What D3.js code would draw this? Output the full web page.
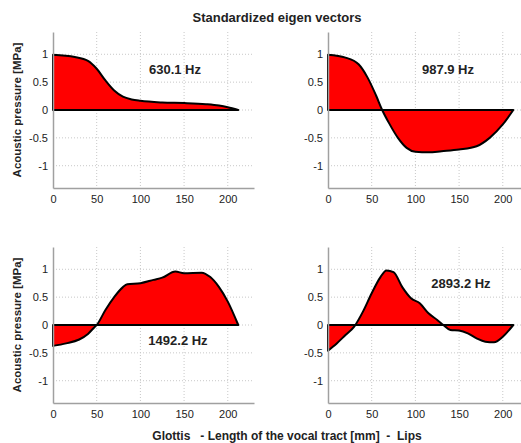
<!DOCTYPE html>
<html>
<head>
<meta charset="utf-8">
<script src="https://cdn.jsdelivr.net/npm/d3@7"></script>
<style>
  body { margin: 0; background: #fff; }
  svg text { font-family: "Liberation Sans", Arial, sans-serif; }
</style>
</head>
<body>
<div id="chart"></div>
<script>
// eigen vector samples: position along the tract [mm] and pressure [MPa]
const xs1 = [0, 25, 40, 50, 60, 70, 80, 90, 100, 125, 150, 175, 190, 200, 212];
const ys1 = [0.99, 0.95, 0.88, 0.74, 0.53, 0.35, 0.24, 0.19, 0.165, 0.135, 0.125, 0.105, 0.08, 0.05, 0];

const xs2 = [0, 20, 35, 45, 55, 62, 70, 80, 90, 100, 115, 130, 150, 170, 185, 200, 212];
const ys2 = [0.99, 0.94, 0.82, 0.59, 0.26, 0, -0.24, -0.5, -0.68, -0.75, -0.76, -0.74, -0.71, -0.65, -0.5, -0.26, 0];

const xs3 = [0, 15, 30, 40, 48, 50, 60, 70, 80, 85, 100, 115, 125, 140, 150, 170, 180, 190, 200, 212];
const ys3 = [-0.375, -0.33, -0.26, -0.16, -0.03, 0, 0.27, 0.5, 0.68, 0.73, 0.75, 0.81, 0.85, 0.96, 0.93, 0.94, 0.86, 0.68, 0.42, 0];

const xs4 = [0, 10, 20, 30, 40, 50, 60, 67, 75, 85, 95, 105, 115, 125, 132, 140, 150, 160, 170, 180, 190, 200, 212];
const ys4 = [-0.46, -0.33, -0.18, -0.03, 0.24, 0.57, 0.86, 0.98, 0.95, 0.68, 0.48, 0.39, 0.21, 0.09, 0, -0.09, -0.1, -0.15, -0.24, -0.3, -0.31, -0.21, 0];

const freqLabels = ['630.1 Hz', '987.9 Hz', '1492.2 Hz', '2893.2 Hz'];
const xTicks = [0, 50, 100, 150, 200];
const yTicks = [-1, -0.5, 0, 0.5, 1];
const title = 'Standardized eigen vectors';
const yTitle = 'Acoustic pressure [MPa]';
const xTitle = 'Glottis   - Length of the vocal tract [mm]  -  Lips';

const W = 521, H = 443;
const svg = d3.select('#chart').append('svg')
    .attr('width', W).attr('height', H);

const panels = [
    { xs: xs1, ys: ys1, left: 53, top: 32, label: freqLabels[0], lx: 175, ly: 71, ylab: true },
    { xs: xs2, ys: ys2, left: 328, top: 32, label: freqLabels[1], lx: 448, ly: 71, ylab: false },
    { xs: xs3, ys: ys3, left: 53, top: 247, label: freqLabels[2], lx: 178, ly: 342, ylab: true },
    { xs: xs4, ys: ys4, left: 328, top: 247, label: freqLabels[3], lx: 461, ly: 285, ylab: false }
];

const pw = 201, ph = 156;

panels.forEach(p => {
    const g = svg.append('g').attr('transform', `translate(${p.left},${p.top})`);
    const x = d3.scaleLinear().domain([0, 230]).range([0, pw]);
    const y = d3.scaleLinear().domain([-1.4, 1.4]).range([ph, 0]);

    // dotted grid
    g.selectAll('.vg').data(xTicks.slice(1)).enter().append('line')
        .attr('x1', d => x(d)).attr('x2', d => x(d))
        .attr('y1', 0).attr('y2', ph)
        .attr('stroke', '#c8c8c8').attr('stroke-width', 1)
        .attr('stroke-dasharray', '1,2');
    g.selectAll('.hg').data(yTicks).enter().append('line')
        .attr('x1', 0).attr('x2', pw)
        .attr('y1', d => y(d)).attr('y2', d => y(d))
        .attr('stroke', '#c8c8c8').attr('stroke-width', 1)
        .attr('stroke-dasharray', '1,2');

    const pts = p.xs.map((v, i) => [v, p.ys[i]]);
    const area = d3.area()
        .x(d => x(d[0])).y0(y(0)).y1(d => y(d[1]))
        .curve(d3.curveMonotoneX);
    g.append('path').datum(pts)
        .attr('d', area)
        .attr('fill', '#ff0000')
        .attr('stroke', '#000').attr('stroke-width', 2)
        .attr('stroke-linejoin', 'round');

    // zero line
    g.append('line')
        .attr('x1', x(0)).attr('x2', x(212))
        .attr('y1', y(0)).attr('y2', y(0))
        .attr('stroke', '#000').attr('stroke-width', 2);

    // axes
    const xa = g.append('g').attr('transform', `translate(0,${ph})`)
        .call(d3.axisBottom(x).tickValues(xTicks).tickSize(0).tickPadding(7));
    const ya = g.append('g')
        .call(d3.axisLeft(y).tickValues(yTicks).tickSize(0).tickPadding(5)
            .tickFormat(d => d === 0 ? '0' : String(d)));
    [xa, ya].forEach(a => {
        a.select('.domain').attr('stroke', '#a0a0a0').attr('stroke-width', 1.5);
        a.selectAll('text').attr('font-size', 11).attr('fill', '#222');
    });

    g.append('text')
        .attr('x', p.lx - p.left).attr('y', p.ly - p.top)
        .attr('text-anchor', 'middle').attr('dominant-baseline', 'middle')
        .attr('font-size', 13).attr('font-weight', 'bold').attr('fill', '#222')
        .text(p.label);

    if (p.ylab) {
        svg.append('text')
            .attr('transform', `translate(21,${p.top + ph / 2}) rotate(-90)`)
            .attr('text-anchor', 'middle')
            .attr('font-size', 11.5).attr('font-weight', 'bold').attr('fill', '#222')
            .text(yTitle);
    }
});

svg.append('text')
    .attr('x', 277).attr('y', 22)
    .attr('text-anchor', 'middle')
    .attr('font-size', 13).attr('font-weight', 'bold').attr('fill', '#222')
    .text(title);

svg.append('text')
    .attr('x', 287).attr('y', 440)
    .attr('text-anchor', 'middle')
    .attr('font-size', 12).attr('font-weight', 'bold').attr('fill', '#222')
    .attr('xml:space', 'preserve').style('white-space', 'pre')
    .text(xTitle);
</script>
</body>
</html>
